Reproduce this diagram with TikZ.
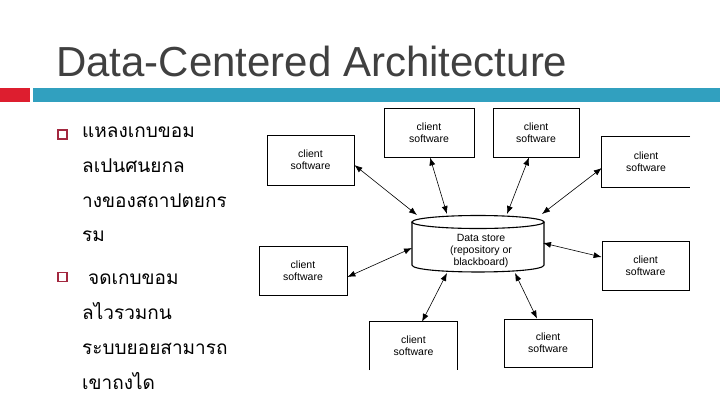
\documentclass[tikz,border=0pt]{standalone}
\usepackage{fontspec}
\setmainfont{Liberation Sans}
\newfontfamily\lsans{Liberation Sans}
\newfontfamily\thaifont[Script=Thai]{Loma}
\usetikzlibrary{arrows.meta}
\definecolor{titlegray}{HTML}{404040}
\definecolor{barteal}{HTML}{31A0BF}
\definecolor{barred}{HTML}{DD1E2F}
\definecolor{bulletred}{HTML}{A3283F}
\tikzset{
  client/.style={inner sep=0pt, align=center, font=\lsans\fontsize{10.5}{12}\selectfont},
  boxed/.style={client, draw, line width=0.8pt},
  conn/.style={{Latex[length=8pt,width=6pt]}-{Latex[length=8pt,width=6pt]}, line width=0.6pt},
  thaitext/.style={anchor=base west, inner sep=0pt, font=\thaifont\fontsize{19}{23}\selectfont},
  bulletbox/.style={draw=bulletred, line width=1.8pt, minimum size=9pt, inner sep=0pt}
}
\begin{document}
\begin{tikzpicture}[x=1pt,y=-1pt]
\useasboundingbox (0,0) rectangle (720,405);
\fill[white] (0,0) rectangle (720,405);
% title
\node[anchor=base west, inner sep=0pt, text=titlegray, font=\lsans\fontsize{42}{46}\selectfont] (title) at (56,76) {Data-Centered Architecture};
% bars
\fill[barred] (0,88) rectangle (30,102);
\fill[barteal] (33,88) rectangle (720,102);
% bullets
\node[bulletbox] (b1) at (62.5,134.5) {};
\node[bulletbox] (b2) at (62.5,277) {};
% Thai text
\node[thaitext] (l1) at (82,137) {แหลงเกบขอม};
\node[thaitext] (l2) at (82,172) {ลเปนศนยกล};
\node[thaitext] (l3) at (82,207) {างของสถาปตยกร};
\node[thaitext] (l4) at (82,241) {รม};
\node[thaitext] (l5) at (88,284) {จดเกบขอม};
\node[thaitext] (l6) at (82,319) {ลไวรวมกน};
\node[thaitext] (l7) at (82,354) {ระบบยอยสามารถ};
\node[thaitext] (l8) at (82,389) {เขาถงได};
% client boxes
\node[boxed, minimum width=87pt, minimum height=50pt] (tl) at (310.5,160) {client\\software};
\node[boxed, minimum width=90pt, minimum height=49pt] (t1) at (429,132.5) {client\\software};
\node[boxed, minimum width=86pt, minimum height=49pt] (t2) at (536,132.5) {client\\software};
\node[client, minimum width=88pt, minimum height=50pt] (tr) at (646,162) {client\\software};
\draw[line width=0.8pt] (tr.north east) -- (tr.north west) -- (tr.south west) -- (tr.south east);
\node[boxed, minimum width=88pt, minimum height=49pt] (ml) at (303,270.5) {client\\software};
\node[boxed, minimum width=87pt, minimum height=49pt] (mr) at (645.5,265.5) {client\\software};
\node[client, minimum width=87pt, minimum height=48pt] (bl) at (413.5,346) {client\\software};
\draw[line width=0.8pt] (bl.south west) -- (bl.north west) -- (bl.north east) -- (bl.south east);
\node[boxed, minimum width=88pt, minimum height=48pt] (br) at (548,343) {client\\software};
% data store cylinder
\draw[line width=1.1pt] (478,222) ellipse [x radius=66, y radius=6.5];
\draw[line width=1.1pt] (412,222) -- (412,265) .. controls (412,274.3) and (544,274.3) .. (544,265) -- (544,222);
\node[client] (ds) at (481,251) {Data store\\(repository or\\blackboard)};
\coordinate (ds-tl) at (417,215);
\coordinate (ds-t1) at (447,214);
\coordinate (ds-t2) at (507,214);
\coordinate (ds-tr) at (542,214);
\coordinate (ds-mr) at (543,243);
\coordinate (ds-ml) at (412,248);
\coordinate (ds-bl) at (447,273);
\coordinate (ds-br) at (515,273);
% connectors
\draw[conn] ([yshift=-5pt]tl.east) -- (ds-tl);
\draw[conn] ([xshift=1pt]t1.south) -- (ds-t1);
\draw[conn] ([xshift=-7pt]t2.south) -- (ds-t2);
\draw[conn] ([yshift=-6pt]tr.west) -- (ds-tr);
\draw[conn] (ds-mr) -- ([yshift=8.5pt]mr.west);
\draw[conn] ([yshift=-6.5pt]ml.east) -- (ds-ml);
\draw[conn] (ds-bl) -- ([xshift=8.5pt]bl.north);
\draw[conn] (ds-br) -- ([xshift=-11pt]br.north);
\end{tikzpicture}
\end{document}
